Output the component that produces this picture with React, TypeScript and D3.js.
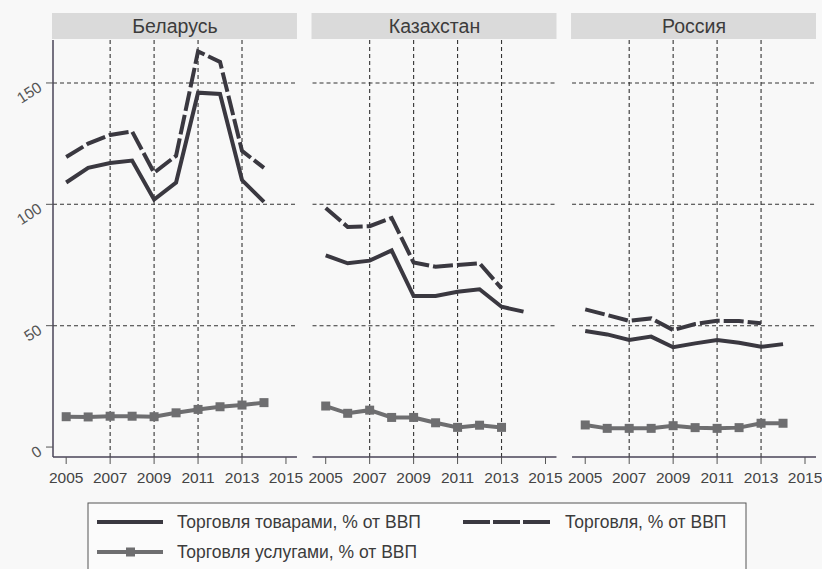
import React, { useEffect, useRef } from "react"
import * as d3 from "d3"

const W = 822
const H = 569

const countries = ["Беларусь", "Казахстан", "Россия"]
const years = [2005, 2006, 2007, 2008, 2009, 2010, 2011, 2012, 2013, 2014]
const xTicks = [2005, 2007, 2009, 2011, 2013, 2015]
const yTicks = [0, 50, 100, 150]

// Торговля, % от ВВП
const tradeBY = [119.5, 125, 128.6, 130, 113, 120, 163, 158.7, 122, 115]
const tradeKZ = [98.5, 90.7, 91, 94.4, 76, 74.3, 75, 75.7, 65.4, null]
const tradeRU = [56.7, 54.4, 52, 53, 48.2, 50.7, 52, 51.9, 51, null]
// Торговля товарами, % от ВВП
const goodsBY = [109, 115, 117, 118, 102, 109, 146, 145.5, 110, 101]
const goodsKZ = [79, 75.7, 76.8, 81, 62.2, 62.2, 64, 65, 57.8, 55.8]
const goodsRU = [47.8, 46.4, 44.1, 45.5, 41.1, 42.7, 44.1, 43, 41.3, 42.4]
// Торговля услугами, % от ВВП
const servBY = [12.5, 12.4, 12.7, 12.7, 12.5, 14.1, 15.5, 16.6, 17.3, 18.3]
const servKZ = [16.9, 13.9, 15.2, 12.2, 12.2, 10, 8.1, 9, 8.1, null]
const servRU = [9.1, 7.7, 7.7, 7.7, 8.8, 8.0, 7.7, 8.0, 9.8, 9.8]

const legendLabels = ["Торговля товарами, % от ВВП", "Торговля, % от ВВП", "Торговля услугами, % от ВВП"]

const panels = [
  { name: countries[0], trade: tradeBY, goods: goodsBY, serv: servBY },
  { name: countries[1], trade: tradeKZ, goods: goodsKZ, serv: servKZ },
  { name: countries[2], trade: tradeRU, goods: goodsRU, serv: servRU },
]

const FONT = "'Liberation Sans', Arial, sans-serif"
const DARK = "#3a3840"
const LIGHT = "#6e6e70"

export default function App() {
  const ref = useRef<SVGSVGElement>(null)

  useEffect(() => {
    const svg = d3.select(ref.current)
    svg.selectAll("*").remove()
    svg.append("rect").attr("width", W).attr("height", H).attr("fill", "#f8f8f8")

    const top = 40, bottom = 457
    const panelX = d3.scaleBand<string>().domain(countries).range([53, 816]).paddingInner(0.06)
    const bw = panelX.bandwidth()
    const x = d3.scaleLinear().domain([2004.4, 2015.5]).range([0, bw])
    const y = d3.scaleLinear().domain([-4.1, 167.7]).range([bottom, top])

    panels.forEach((p) => {
      const g = svg.append("g").attr("transform", `translate(${panelX(p.name)},0)`)

      // strip
      g.append("rect").attr("x", -1).attr("y", 13).attr("width", bw + 1).attr("height", 26).attr("fill", "#dadada")
      g.append("text").attr("x", bw / 2).attr("y", 33).attr("text-anchor", "middle")
        .attr("font-family", FONT).attr("font-size", 19.5).attr("fill", "#3c3c3c").text(p.name)

      // grid
      g.selectAll(".hgrid").data([50, 100, 150]).join("line").attr("class", "hgrid")
        .attr("x1", 0).attr("x2", bw).attr("y1", d => y(d)).attr("y2", d => y(d))
        .attr("stroke", "#333").attr("stroke-width", 1.1).attr("stroke-dasharray", "4,3")
      g.selectAll(".vgrid").data([2007, 2009, 2011, 2013]).join("line").attr("class", "vgrid")
        .attr("x1", d => x(d)).attr("x2", d => x(d)).attr("y1", top).attr("y2", bottom)
        .attr("stroke", "#333").attr("stroke-width", 1.1).attr("stroke-dasharray", "4,3")

      // x axis
      g.append("line").attr("x1", 0).attr("x2", bw).attr("y1", bottom).attr("y2", bottom)
        .attr("stroke", "#4a4458").attr("stroke-width", 1.5)
      g.selectAll(".xtick").data(xTicks).join("line").attr("class", "xtick")
        .attr("x1", d => x(d)).attr("x2", d => x(d)).attr("y1", bottom).attr("y2", bottom + 7)
        .attr("stroke", "#555").attr("stroke-width", 1)
      g.selectAll(".xlab").data(xTicks).join("text").attr("class", "xlab")
        .attr("x", d => x(d)).attr("y", bottom + 26).attr("text-anchor", "middle")
        .attr("font-family", FONT).attr("font-size", 15.5).attr("fill", "#444").text(d => d)

      const pts = (vals: (number | null)[]) => years.map((yr, i) => ({ yr, v: vals[i] })).filter(d => d.v !== null) as { yr: number, v: number }[]
      const line = d3.line<{ yr: number, v: number }>().x(d => x(d.yr)).y(d => y(d.v))

      g.append("path").datum(pts(p.trade)).attr("d", line).attr("fill", "none")
        .attr("stroke", DARK).attr("stroke-width", 4).attr("stroke-dasharray", "20,4")
      g.append("path").datum(pts(p.goods)).attr("d", line).attr("fill", "none")
        .attr("stroke", DARK).attr("stroke-width", 4)
      g.append("path").datum(pts(p.serv)).attr("d", line).attr("fill", "none")
        .attr("stroke", LIGHT).attr("stroke-width", 4)
      g.selectAll(".sq").data(pts(p.serv)).join("rect").attr("class", "sq")
        .attr("x", d => x(d.yr) - 4.5).attr("y", d => y(d.v) - 4.5).attr("width", 9).attr("height", 9)
        .attr("fill", LIGHT)
    })

    // y axis (first panel only)
    const x0 = panelX(countries[0]) as number
    svg.append("line").attr("x1", x0).attr("x2", x0).attr("y1", top).attr("y2", bottom)
      .attr("stroke", "#4a4458").attr("stroke-width", 1.5)
    svg.selectAll(".ytick").data(yTicks).join("line").attr("class", "ytick")
      .attr("x1", x0 - 7).attr("x2", x0).attr("y1", d => y(d)).attr("y2", d => y(d))
      .attr("stroke", "#555")
    svg.selectAll(".ylab").data(yTicks).join("text").attr("class", "ylab")
      .attr("transform", d => `translate(${x0 - 10},${y(d) + 7}) rotate(-33)`)
      .attr("text-anchor", "end").attr("font-family", FONT).attr("font-size", 15.5).attr("fill", "#555")
      .text(d => d)

    // legend
    const lg = svg.append("g")
    lg.append("rect").attr("x", 88).attr("y", 503).attr("width", 658).attr("height", 80)
      .attr("fill", "#fbfbfb").attr("stroke", "#555").attr("stroke-width", 1)
    const items = [
      { label: legendLabels[0], x1: 97, x2: 163, tx: 177, y: 522, dash: null, color: DARK, marker: false },
      { label: legendLabels[1], x1: 463, x2: 550, tx: 565, y: 522, dash: "27,3", color: DARK, marker: false },
      { label: legendLabels[2], x1: 97, x2: 163, tx: 177, y: 552, dash: null, color: LIGHT, marker: true },
    ]
    items.forEach((it) => {
      lg.append("line").attr("x1", it.x1).attr("x2", it.x2).attr("y1", it.y).attr("y2", it.y)
        .attr("stroke", it.color).attr("stroke-width", 4).attr("stroke-dasharray", it.dash)
      if (it.marker) {
        lg.append("rect").attr("x", 126).attr("y", it.y - 4.5).attr("width", 9).attr("height", 9).attr("fill", it.color)
      }
      lg.append("text").attr("x", it.tx).attr("y", it.y + 6)
        .attr("font-family", FONT).attr("font-size", 17.5).attr("fill", "#3c3c3c").text(it.label)
    })
  }, [])

  return (
    <svg ref={ref} width={W} height={H} style={{ position: "absolute", left: 0, top: 0 }}></svg>
  )
}
